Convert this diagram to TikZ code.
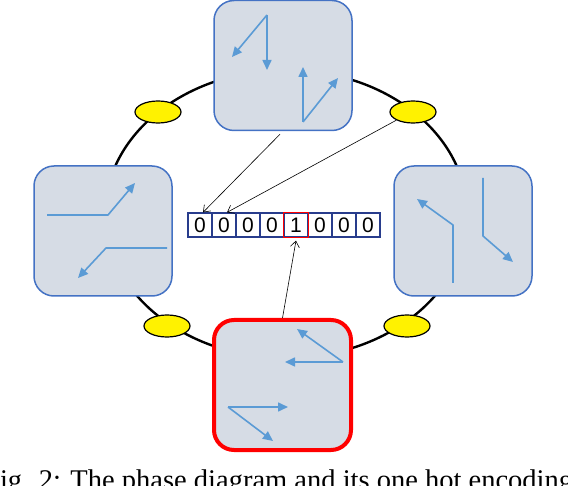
\documentclass[tikz,border=0pt]{standalone}
\usepackage{fontspec}
\setmainfont{Liberation Serif}
\setsansfont{Liberation Sans}
\usetikzlibrary{arrows.meta,positioning,calc,shapes.geometric}
\definecolor{boxfill}{RGB}{214,220,229}
\definecolor{boxedge}{RGB}{68,114,196}
\definecolor{vecblue}{RGB}{91,155,213}
\definecolor{celledge}{RGB}{40,60,140}
\definecolor{hotred}{RGB}{255,0,0}

\begin{document}
\begin{tikzpicture}[x=1pt, y=-1pt,
  phase/.style={draw=boxedge, line width=1.5pt, fill=boxfill,
                rounded corners=20pt, minimum width=138pt,
                minimum height=130pt, inner sep=0pt},
  pad/.style={ellipse, draw=black, line width=1.2pt, fill=yellow,
              minimum width=46pt, minimum height=22pt, inner sep=0pt},
  cell/.style={draw=celledge, line width=1.2pt, minimum width=24pt,
               minimum height=24pt, inner sep=0pt,
               font=\sffamily\fontsize{21}{21}\selectfont},
  vec/.style={draw=vecblue, line width=1.6pt, line join=round,
              -{Triangle[length=10pt,width=9pt]}},
  ptr/.style={draw=black, line width=0.6pt,
              -{Straight Barb[length=6pt,width=9pt]}}]
  \useasboundingbox (0,0) rectangle (568,486);

  % ring and the four pads
  \draw[line width=2.4pt] (286,214) ellipse [x radius=181, y radius=144];
  \node[pad] (padTL) at (158,112) {};
  \node[pad] (padTR) at (413,112) {};
  \node[pad] (padBL) at (167,326) {};
  \node[pad] (padBR) at (407,326) {};

  % phase boxes
  \node[phase] (phaseT) at (283,65.5) {};
  \node[phase] (phaseL) at (103,231) {};
  \node[phase] (phaseR) at (463,231) {};
  \node[phase, draw=hotred, line width=4pt, minimum width=137pt]
    (phaseB) at (282.5,385) {};

  % vectors inside the boxes
  \draw[vec] (267,15) -- (232,57);
  \draw[vec] (267,15) -- (267,70);
  \draw[vec] (303,122) -- (303,67);
  \draw[vec] (303,122) -- (338,78);

  \draw[vec] (47,215) -- (108,215) -- (135,183);
  \draw[vec] (167,248) -- (106,248) -- (78,278);

  \draw[vec] (453,283) -- (453,225) -- (417,199);
  \draw[vec] (483,178) -- (483,236) -- (513,262);

  \draw[vec] (343,362) -- (285,362);
  \draw[vec] (343,362) -- (297,329);
  \draw[vec] (228,407) -- (288,407);
  \draw[vec] (228,407) -- (273,441);

  % one hot code
  \foreach \i in {0,...,7}{
    \ifnum\i=4
      \node[cell] (cell\i) at (200+24*\i,225) {1};
    \else
      \node[cell] (cell\i) at (200+24*\i,225) {0};
    \fi
  }
  \draw[hotred, line width=1.5pt] (cell4.south west) rectangle (cell4.north east);

  % pointers to the code
  \draw[ptr] ($(phaseT.south)+(-3,3)$) -- ([xshift=3pt]cell0.north);
  \draw[ptr] (padTR.south west) -- ([xshift=3pt]cell1.north);
  \draw[ptr] (phaseB.north) -- ([yshift=-3pt]cell4.south);

  \node[anchor=base west, inner sep=0pt, font=\fontsize{28.5}{28.5}\selectfont]
    (caption) at (-16,489) {Fig. 2: The phase diagram and its one hot encoding};
\end{tikzpicture}
\end{document}
